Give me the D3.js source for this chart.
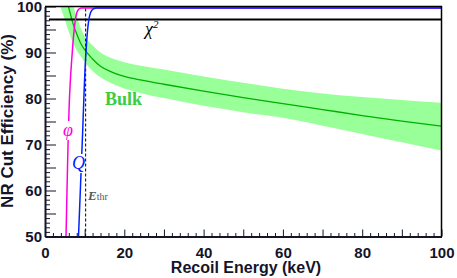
<!DOCTYPE html>
<html>
<head>
<meta charset="utf-8">
<script src="https://cdn.jsdelivr.net/npm/d3@7"></script>
<style>
  body { margin: 0; background: #fff; }
  svg { display: block; }
  text { font-family: "Liberation Sans", Arial, sans-serif; }
</style>
</head>
<body>
<svg id="chart" width="457" height="278"></svg>
<script>
'use strict';

// Bulk NR efficiency (centre line and 1 sigma band)
let bulkE   = [4, 5, 6, 7, 8, 9, 10, 12, 14, 17, 20, 25, 30, 40, 50, 60, 70, 80, 90, 100];
let bulkMid = [106, 103, 99.7, 96.5, 94.0, 92.0, 90.6, 88.6, 87.0, 85.7, 84.8, 83.9, 83.1, 81.6, 80.2, 78.9, 77.6, 76.3, 75.1, 74.0];
let bulkLo  = [99.6, 97.2, 94.5, 92.2, 90.5, 89.2, 88.0, 86.0, 84.6, 83.2, 82.2, 81.0, 80.1, 78.4, 77.0, 75.8, 74.1, 72.3, 70.5, 68.7];
let bulkHi  = [110, 107, 104, 100.5, 97.8, 95.3, 93.5, 91.6, 90.0, 88.7, 87.9, 87.0, 86.3, 84.8, 83.4, 82.1, 81.1, 80.3, 79.7, 79.1];

// phi cut
let phiE   = [5.3, 5.5, 5.7, 5.9, 6.1, 6.4, 6.7, 7.0, 7.3, 7.6, 8.0, 8.5, 9.2, 100];
let phiEff = [50, 58, 66, 73, 78.5, 84, 88, 91.5, 94.5, 96.8, 98.6, 99.4, 99.7, 99.7];

// Q cut
let qE   = [8.45, 8.8, 9.15, 9.5, 9.8, 10.1, 10.4, 10.7, 11.0, 11.5, 12.2, 13, 100];
let qEff = [50, 57.6, 65.2, 72.8, 80, 86.5, 91, 94.5, 96.8, 98.7, 99.5, 99.7, 99.7];

// chi2 cut and threshold
let chi2E = [1, 100];
let chi2Eff = [97.2, 97.2];
let eThr = 10.25;

let xTicks = d3.range(0, 101, 2);
let yTicks = d3.range(50, 101, 1);

let svg = d3.select("#chart");
let ink = "#14142a";

let x = d3.scaleLinear().domain([0, 100]).range([45, 441.5]);
let y = d3.scaleLinear().domain([50, 100]).range([236.5, 6.5]);

svg.append("defs").append("clipPath").attr("id", "plotclip")
    .append("rect")
    .attr("x", x(0)).attr("y", y(100))
    .attr("width", x(100) - x(0)).attr("height", y(50) - y(100));

let plot = svg.append("g").attr("clip-path", "url(#plotclip)");

let band = bulkE.map(function(e, i) { return {e: e, lo: bulkLo[i], hi: bulkHi[i]}; });
plot.append("path")
    .datum(band)
    .attr("fill", "#99ff99")
    .attr("d", d3.area()
        .x(function(d) { return x(d.e); })
        .y0(function(d) { return y(d.lo); })
        .y1(function(d) { return y(d.hi); })
        .curve(d3.curveMonotoneX));

function curve(es, vs, color, width) {
    let pts = es.map(function(e, i) { return [e, vs[i]]; });
    plot.append("path")
        .datum(pts)
        .attr("fill", "none")
        .attr("stroke", color)
        .attr("stroke-width", width)
        .attr("d", d3.line()
            .x(function(d) { return x(d[0]); })
            .y(function(d) { return y(d[1]); })
            .curve(d3.curveMonotoneX));
}

curve(bulkE, bulkMid, "#00b000", 1.3);
curve(chi2E, chi2Eff, "#000", 2);

plot.append("line")
    .attr("x1", x(eThr)).attr("x2", x(eThr))
    .attr("y1", y(50)).attr("y2", y(100))
    .attr("stroke", "#000")
    .attr("stroke-width", 1)
    .attr("stroke-dasharray", "3,2");

curve(phiE, phiEff, "#ff00dd", 1.5);
curve(qE, qEff, "#0022ff", 1.5);

// labels
function label(txt, lx, ly, color, size, style, weight, bg) {
    let t = svg.append("text")
        .attr("x", lx).attr("y", ly)
        .attr("fill", color)
        .style("font-family", "'Liberation Serif', 'Times New Roman', serif")
        .style("font-size", size + "px")
        .style("font-style", style)
        .style("font-weight", weight)
        .text(txt);
    if (bg) {
        let b = t.node().getBBox();
        svg.insert("rect", function() { return t.node(); })
            .attr("x", b.x).attr("y", b.y + 1)
            .attr("width", b.width).attr("height", b.height - 1)
            .attr("fill", "#fff");
    }
    return t;
}

let chiLab = label("\u03c7", 145, 35, "#000", 18, "italic", "normal", false);
chiLab.append("tspan").attr("dy", -7).style("font-size", "11px").text("2");

label("Bulk", 105, 105, "#3ccc3c", 18, "normal", "bold", false);
label("\u03c6", 63, 136, "#ff00dd", 18, "italic", "normal", true);
label("Q", 72, 169, "#0022ff", 18, "italic", "normal", true);

let eLab = label("E", 88, 200, "#555", 13, "italic", "bold", false);
eLab.append("tspan").style("font-size", "10px").style("font-style", "normal")
    .style("font-weight", "normal").text("thr");

// axes
let xAxis = d3.axisBottom(x)
    .tickValues(xTicks)
    .tickSizeInner(-3.5)
    .tickSizeOuter(0)
    .tickPadding(11)
    .tickFormat(function(d) { return d % 20 === 0 ? d : ""; });

let gx = svg.append("g")
    .attr("transform", "translate(0," + y(50) + ")")
    .call(xAxis);
gx.selectAll(".tick line")
    .attr("stroke", ink)
    .attr("y2", function(d) { return d % 10 === 0 ? -7 : -3.5; });
gx.select(".domain").attr("stroke", ink).attr("stroke-width", 2);
gx.selectAll(".tick text")
    .attr("fill", ink)
    .style("font-size", "15px")
    .style("font-weight", "bold");

let yAxis = d3.axisLeft(y)
    .tickValues(yTicks)
    .tickSizeInner(-5)
    .tickSizeOuter(0)
    .tickPadding(3)
    .tickFormat(function(d) { return d % 10 === 0 ? d : ""; });

let gy = svg.append("g")
    .attr("transform", "translate(" + x(0) + ",0)")
    .call(yAxis);
gy.selectAll(".tick line")
    .attr("stroke", ink)
    .attr("x2", function(d) { return d % 5 === 0 ? 11 : 5; });
gy.select(".domain").attr("stroke", ink).attr("stroke-width", 2);
gy.selectAll(".tick text")
    .attr("fill", ink)
    .style("font-size", "15px")
    .style("font-weight", "bold");

// frame top and right
svg.append("path")
    .attr("fill", "none")
    .attr("stroke", "#000")
    .attr("stroke-width", 1.5)
    .attr("d", "M" + x(0) + "," + y(100) + "H" + x(100) + "V" + y(50));

// axis titles
svg.append("text")
    .attr("x", 246).attr("y", 273)
    .attr("text-anchor", "middle")
    .attr("fill", ink)
    .style("font-size", "16px")
    .style("font-weight", "bold")
    .text("Recoil Energy (keV)");

svg.append("text")
    .attr("transform", "translate(13,121) rotate(-90)")
    .attr("text-anchor", "middle")
    .attr("fill", ink)
    .style("font-size", "17px")
    .style("font-weight", "bold")
    .text("NR Cut Efficiency (%)");
</script>
</body>
</html>
